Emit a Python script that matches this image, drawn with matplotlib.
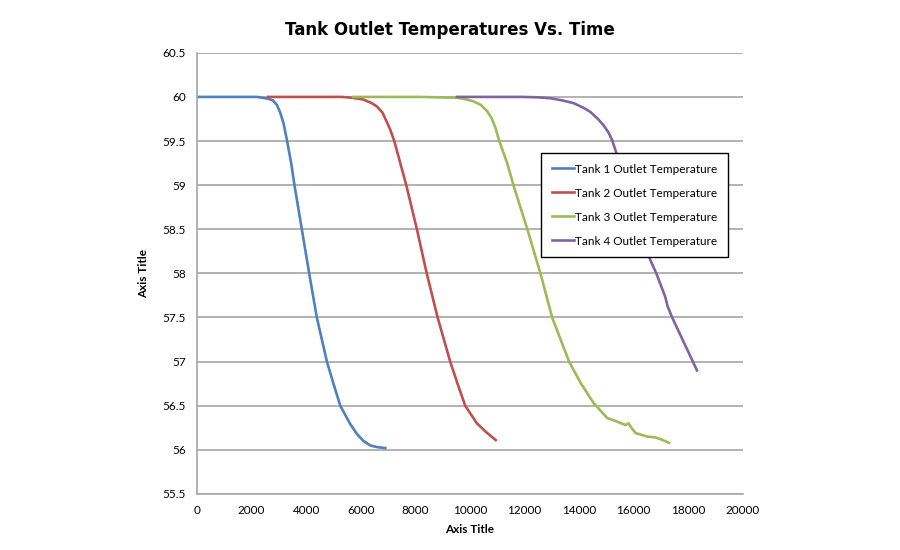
import matplotlib
matplotlib.use("Agg")
import matplotlib.pyplot as plt

# values (time, outlet temperature)
tank1_t = [0, 1000, 2000, 2200, 2400, 2600, 2780, 2925, 3050, 3170, 3300, 3450, 3570,
           3840, 4110, 4390, 4760, 5000, 5250, 5600, 5860, 6100, 6350, 6600, 6900]
tank1_T = [60.0, 60.0, 60.0, 60.0, 59.99, 59.98, 59.96, 59.91, 59.82, 59.7, 59.5,
           59.25, 59.0, 58.5, 58.0, 57.5, 57.0, 56.75, 56.5, 56.3, 56.18, 56.1,
           56.05, 56.03, 56.02]

tank2_t = [2600, 4000, 5300, 5700, 6100, 6400, 6600, 6800, 6950, 7080, 7230, 7450,
           7670, 8060, 8420, 8820, 9280, 9550, 9830, 10260, 10600, 10950]
tank2_T = [60.0, 60.0, 60.0, 59.99, 59.97, 59.93, 59.89, 59.82, 59.72, 59.63, 59.5,
           59.25, 59.0, 58.5, 58.0, 57.5, 57.0, 56.75, 56.5, 56.3, 56.2, 56.11]

tank3_t = [5720, 7000, 8200, 9550, 9900, 10130, 10400, 10630, 10800, 10940, 11080,
           11370, 11600, 12110, 12590, 13020, 13640, 14060, 14540, 15040, 15400,
           15710, 15820, 15900, 16080, 16500, 16810, 17000, 17300]
tank3_T = [60.0, 60.0, 60.0, 59.99, 59.97, 59.95, 59.91, 59.84, 59.76, 59.65, 59.5,
           59.25, 59.0, 58.5, 58.0, 57.5, 57.0, 56.76, 56.53, 56.36, 56.32,
           56.28, 56.3, 56.26, 56.19, 56.15, 56.14, 56.12, 56.08]

tank4_t = [9530, 11000, 11970, 12500, 12950, 13400, 13800, 14150, 14420, 14700,
           14900, 15080, 15220, 15400, 15750, 16230, 16620, 16840, 17170, 17250,
           17420, 17800, 18180, 18330]
tank4_T = [60.0, 60.0, 60.0, 59.995, 59.985, 59.96, 59.93, 59.88, 59.83, 59.75,
           59.68, 59.6, 59.51, 59.34, 59.0, 58.5, 58.15, 58.0, 57.73, 57.63,
           57.5, 57.25, 57.0, 56.9]

labels = ["Tank 1 Outlet Temperature", "Tank 2 Outlet Temperature",
          "Tank 3 Outlet Temperature", "Tank 4 Outlet Temperature"]
colors = ["#4F81BD", "#C0504D", "#9BBB59", "#8064A2"]

x_ticks = list(range(0, 20001, 2000))
y_ticks = [55.5, 56, 56.5, 57, 57.5, 58, 58.5, 59, 59.5, 60, 60.5]

fig = plt.figure(figsize=(9, 5.5), dpi=100)
ax = fig.add_axes([0.219, 0.102, 0.606, 0.802])

series = [(tank1_t, tank1_T), (tank2_t, tank2_T), (tank3_t, tank3_T), (tank4_t, tank4_T)]
for (t, T), lab, col in zip(series, labels, colors):
    ax.plot(t, T, color=col, lw=1.9, label=lab, solid_joinstyle="round")

ax.set_xlim(0, 20000)
ax.set_ylim(55.5, 60.5)
ax.set_xticks(x_ticks)
ax.set_yticks(y_ticks)
ax.set_yticklabels([("%g" % v) for v in y_ticks])
ax.tick_params(length=0, labelsize=8.5, pad=8, colors="black")
for lab in ax.get_xticklabels() + ax.get_yticklabels():
    lab.set_family("Lato")

ax.grid(axis="y", color="#A6A6A6", lw=1.2)
ax.set_axisbelow(True)
for side in ["top", "right"]:
    ax.spines[side].set_visible(False)
for side in ["left", "bottom"]:
    ax.spines[side].set_color("#A6A6A6")
    ax.spines[side].set_linewidth(1.2)

ax.set_xlabel("Axis Title", fontsize=8.5, fontweight="bold", family="Lato", labelpad=6)
ax.set_ylabel("Axis Title", fontsize=8.5, fontweight="bold", family="Lato", labelpad=10)

fig.text(0.5, 0.945, "Tank Outlet Temperatures Vs. Time", ha="center", va="center",
         fontsize=12, fontweight="bold", family="DejaVu Sans")

leg = ax.legend(loc="upper left", bbox_to_anchor=(0.631, 0.773), fancybox=False,
                framealpha=1, edgecolor="black", prop={"family": "Lato", "size": 8.5},
                handlelength=1.9, handletextpad=0.1, labelspacing=1.1,
                borderpad=0.9, borderaxespad=0)
leg.get_frame().set_linewidth(1.0)

fig.savefig("out.png", dpi=100)
